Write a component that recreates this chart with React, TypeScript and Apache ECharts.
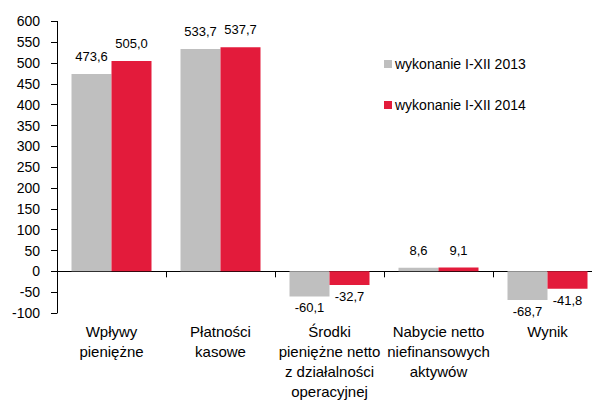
import React, { useEffect, useRef } from "react";
import * as echarts from "echarts";

const categories = [
  "Wpływy\npieniężne",
  "Płatności\nkasowe",
  "Środki\npieniężne netto\nz działalności\noperacyjnej",
  "Nabycie netto\nniefinansowych\naktywów",
  "Wynik",
];
const seriesNames = ["wykonanie I-XII 2013", "wykonanie I-XII 2014"];
const values2013 = [473.6, 533.7, -60.1, 8.6, -68.7];
const values2014 = [505.0, 537.7, -32.7, 9.1, -41.8];
const colors = ["#BFBFBF", "#E31B3B"];

const FONT = "'Liberation Sans', Arial, sans-serif";

function toItems(vals: number[]) {
  return vals.map((v) => ({
    value: v,
    label: v >= 0 ? { position: "top", distance: 11 } : { position: "bottom", distance: 5 },
  }));
}

export default function App() {
  const ref = useRef<HTMLDivElement>(null);
  useEffect(() => {
    if (!ref.current) return;
    const chart = echarts.init(ref.current, undefined, { renderer: "svg" });
    const labelCfg = {
      show: true,
      fontSize: 13,
      fontFamily: FONT,
      color: "#000",
      formatter: (p: any) => Number(p.value).toFixed(1).replace(".", ","),
    };
    chart.setOption({
      animation: false,
      backgroundColor: "#fff",
      textStyle: { fontFamily: FONT },
      legend: {
        orient: "vertical",
        left: 379,
        top: 52,
        itemWidth: 8,
        itemHeight: 8,
        itemGap: 27,
        icon: "rect",
        textStyle: { fontSize: 14, fontFamily: FONT, color: "#000", padding: [0, 0, 0, -2] },
        data: seriesNames,
      },
      grid: {
        left: 57,
        width: 545,
        top: 21.4,
        bottom: 91,
        containLabel: false,
        outerBoundsMode: "none",
      },
      xAxis: [
        {
          type: "category",
          data: categories,
          position: "bottom",
          axisLine: { onZero: true, lineStyle: { color: "#000", width: 1 } },
          axisTick: { show: true, length: 6, inside: false, lineStyle: { color: "#000" } },
          axisLabel: { show: false },
          splitLine: { show: false },
        },
        {
          type: "category",
          data: categories,
          position: "bottom",
          axisLine: { show: false, onZero: false },
          axisTick: { show: false },
          axisLabel: {
            show: true,
            interval: 0,
            margin: 8,
            fontSize: 15,
            lineHeight: 20,
            fontFamily: FONT,
            color: "#000",
          },
          splitLine: { show: false },
        },
      ],
      yAxis: {
        type: "value",
        min: -100,
        max: 600,
        interval: 50,
        axisLine: { show: true, lineStyle: { color: "#000" } },
        axisTick: { show: true, length: 6, lineStyle: { color: "#000" } },
        axisLabel: { margin: 17, fontSize: 14, fontFamily: FONT, color: "#000" },
        splitLine: { show: false },
      },
      series: [
        {
          name: seriesNames[0],
          type: "bar",
          xAxisIndex: 0,
          data: toItems(values2013),
          barWidth: 40,
          barGap: "0%",
          itemStyle: { color: colors[0] },
          label: labelCfg,
        },
        {
          name: seriesNames[1],
          type: "bar",
          xAxisIndex: 0,
          data: toItems(values2014),
          barWidth: 40,
          barGap: "0%",
          itemStyle: { color: colors[1] },
          label: labelCfg,
        },
      ],
    });
    return () => chart.dispose();
  }, []);
  return (
    <div
      ref={ref}
      style={{ position: "absolute", left: 0, top: 0, width: 592, height: 404 }}
    />
  );
}
